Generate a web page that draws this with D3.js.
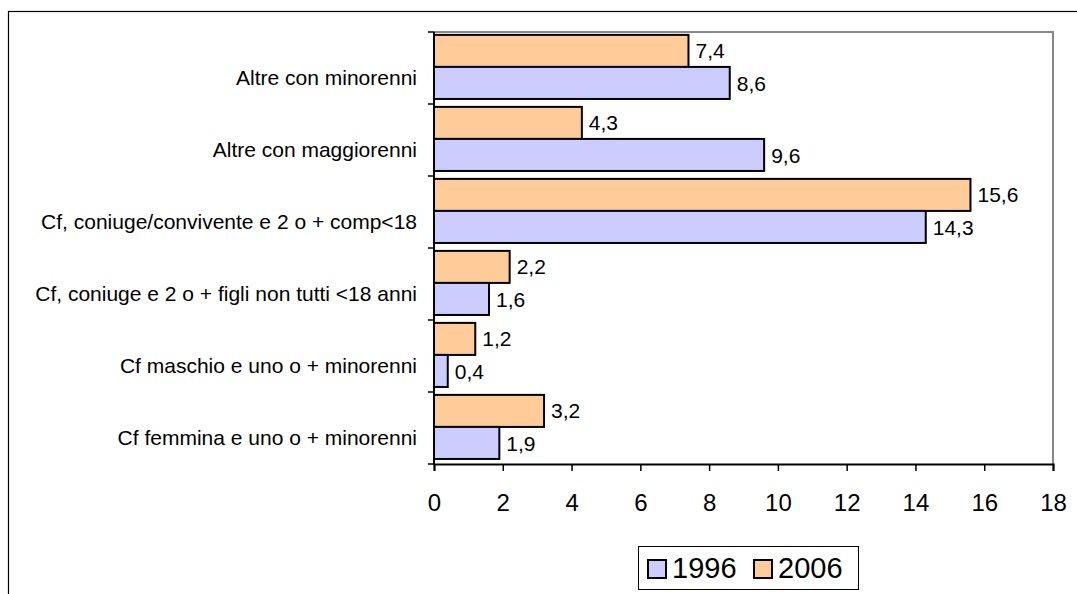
<!DOCTYPE html>
<html>
<head>
<meta charset="utf-8">
<script src="https://cdn.jsdelivr.net/npm/d3@7/dist/d3.min.js"></script>
<style>
  html, body { margin: 0; padding: 0; background: #fff; }
  svg { display: block; font-family: "Liberation Sans", Arial, sans-serif; }
</style>
</head>
<body>
<svg id="chart" width="1077" height="594"></svg>
<script>
const categories = [
  "Altre con minorenni",
  "Altre con maggiorenni",
  "Cf, coniuge/convivente e 2 o + comp<18",
  "Cf, coniuge e 2 o + figli non tutti <18 anni",
  "Cf maschio e uno o + minorenni",
  "Cf femmina e uno o + minorenni"
];
const seriesNames = ["2006", "1996"];
const values2006 = [7.4, 4.3, 15.6, 2.2, 1.2, 3.2];
const values1996 = [8.6, 9.6, 14.3, 1.6, 0.4, 1.9];
const xTicks = [0, 2, 4, 6, 8, 10, 12, 14, 16, 18];
const legendItems = ["1996", "2006"];
const colors = { "1996": "#CCCCFF", "2006": "#FFCC99" };

(function () {
const svg = d3.select("#chart");
const FONT = "'Liberation Sans', Arial, sans-serif";

// outer frame
svg.append("rect")
  .attr("x", 8.5).attr("y", 11.5)
  .attr("width", 1100).attr("height", 620)
  .attr("fill", "none").attr("stroke", "#000").attr("stroke-width", 1.2);

const pLeft = 434, pRight = 1053, pTop = 32, pBottom = 464;

const x = d3.scaleLinear().domain([0, 18]).range([pLeft, pRight]);
const y = d3.scaleBand().domain(categories).range([pTop, pBottom]).paddingInner(0).paddingOuter(0);
const bw = y.bandwidth();
const inner = d3.scaleBand().domain(seriesNames).range([bw * 0.04, bw * 0.93]).padding(0);

// plot area border (gray top and right)
svg.append("path")
  .attr("d", `M${pLeft},${pTop}H${pRight}V${pBottom}`)
  .attr("fill", "none").attr("stroke", "#888").attr("stroke-width", 2);

// bars
const data = [];
categories.forEach((c, i) => {
  data.push({ cat: c, s: "2006", v: values2006[i] });
  data.push({ cat: c, s: "1996", v: values1996[i] });
});

const g = svg.append("g");
g.selectAll("rect.bar").data(data).join("rect")
  .attr("class", "bar")
  .attr("x", x(0))
  .attr("y", d => y(d.cat) + inner(d.s))
  .attr("width", d => x(d.v) - x(0))
  .attr("height", inner.bandwidth())
  .attr("fill", d => colors[d.s])
  .attr("stroke", "#000").attr("stroke-width", 2);

g.selectAll("text.val").data(data).join("text")
  .attr("class", "val")
  .attr("x", d => x(d.v) + 7)
  .attr("y", d => y(d.cat) + inner(d.s) + inner.bandwidth() / 2)
  .attr("dy", "0.36em")
  .attr("font-size", 21)
  .attr("font-family", FONT)
  .attr("fill", "#000")
  .text(d => d3.format(".1f")(d.v).replace(".", ","));

// x axis
const xAxis = d3.axisBottom(x).tickValues(xTicks).tickSize(7).tickPadding(23).tickFormat(d3.format("d"));
const gx = svg.append("g").attr("transform", `translate(0,${pBottom})`).call(xAxis);
gx.select(".domain").attr("stroke", "#000").attr("stroke-width", 2);
gx.selectAll(".tick line").attr("stroke", "#000").attr("stroke-width", 1.5);
gx.selectAll(".tick text").attr("font-size", 24).attr("fill", "#000").attr("font-family", FONT);

// y axis
const gy = svg.append("g").attr("transform", `translate(${pLeft},0)`);
gy.append("line").attr("x1", 0).attr("x2", 0).attr("y1", pTop).attr("y2", pBottom)
  .attr("stroke", "#000").attr("stroke-width", 2);
const boundaries = categories.map(c => y(c)).concat([pBottom]);
gy.selectAll("line.tk").data(boundaries).join("line")
  .attr("class", "tk")
  .attr("x1", -6).attr("x2", 0)
  .attr("y1", d => d).attr("y2", d => d)
  .attr("stroke", "#000").attr("stroke-width", 1.5);
gy.selectAll("text.cat").data(categories).join("text")
  .attr("class", "cat")
  .attr("x", -17)
  .attr("y", d => y(d) + bw / 2 + 9)
  .attr("dy", "0.36em")
  .attr("text-anchor", "end")
  .attr("font-size", 21)
  .attr("font-family", FONT)
  .attr("fill", "#000")
  .text(d => d);

// legend
const lg = svg.append("g");
lg.append("rect").attr("x", 638.5).attr("y", 546.5).attr("width", 220).attr("height", 43)
  .attr("fill", "#fff").attr("stroke", "#000").attr("stroke-width", 1);
const legX = [647, 753];
legendItems.forEach((name, i) => {
  lg.append("rect").attr("x", legX[i] + 1).attr("y", 560).attr("width", 18).attr("height", 18)
    .attr("fill", colors[name]).attr("stroke", "#000").attr("stroke-width", 2);
  lg.append("text").attr("x", legX[i] + 25).attr("y", 568).attr("dy", "0.36em")
    .attr("font-size", 29).attr("font-family", FONT).attr("fill", "#000").text(name);
});
})();
</script>
</body>
</html>
